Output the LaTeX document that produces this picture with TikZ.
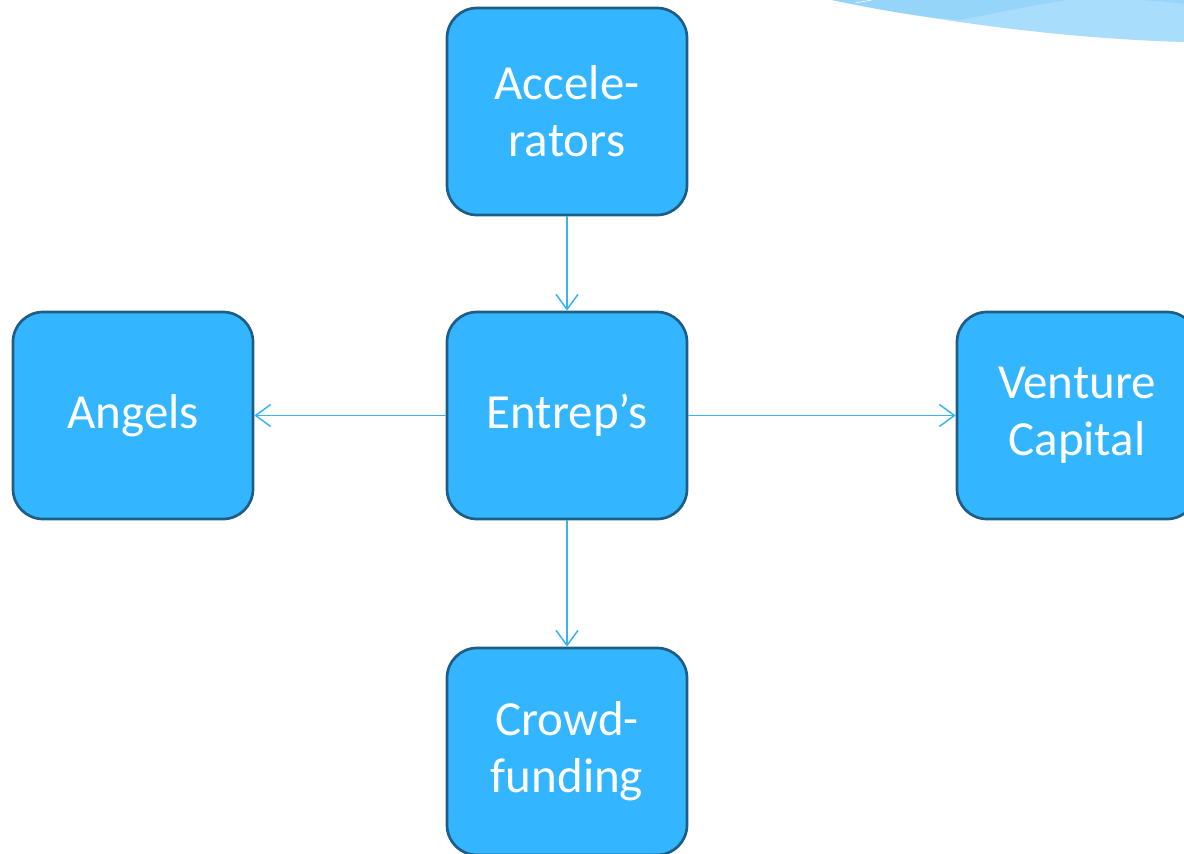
\documentclass[tikz,border=0pt]{standalone}
\usepackage{fontspec}
\setmainfont{Carlito}
\usetikzlibrary{arrows.meta}
\definecolor{boxfill}{HTML}{33B6FF}
\definecolor{boxedge}{HTML}{1E5E86}
\definecolor{linkblue}{HTML}{38B4F5}
\definecolor{swooshA}{HTML}{A8DDFB}
\definecolor{swooshB}{HTML}{96D5FA}
\tikzset{
  fundbox/.style={rectangle, rounded corners=30pt, minimum width=240pt,
    minimum height=207pt, fill=boxfill, draw=boxedge, line width=2.7pt,
    text=white, align=center, inner sep=0pt,
    font=\fontsize{49pt}{57pt}\selectfont},
  link/.style={draw=linkblue, line width=1.5pt,
    -{Straight Barb[length=15pt,width=22pt,line width=1.5pt]}}
}
\begin{document}
\begin{tikzpicture}[x=1pt,y=-1pt]
\useasboundingbox (0,0) rectangle (1184,854);
\clip (0,0) rectangle (1184,854);
\fill[white] (0,0) rectangle (1184,854);
% corner swoosh
\fill[swooshA] (832,0) .. controls (900,14) and (1040,38) .. (1184,42) -- (1184,0) -- cycle;
\fill[swooshB] (832,0) .. controls (880,10) and (920,17) .. (960,20)
  .. controls (1000,12) and (1040,4) .. (1067,0) -- cycle;
\fill[swooshB] (1140,0) -- (1184,0) -- (1184,4) .. controls (1170,2) .. (1140,0) -- cycle;
\draw[white, line width=0.6pt] (855,3) -- (872,0);
% boxes
\node[fundbox] (acc) at (567,111.5) {Accele-\\rators};
\node[fundbox] (ent) at (567,415.5) {Entrep’s};
\node[fundbox] (ang) at (133,415.5) {Angels};
\node[fundbox] (vc)  at (1077,415.5) {Venture\\Capital};
\node[fundbox] (crowd) at (567,751.5) {Crowd-\\funding};
% links
\draw[link] (acc.south) -- (ent.north);
\draw[link] (ent.west) -- (ang.east);
\draw[link] (ent.east) -- (vc.west);
\draw[link] (ent.south) -- (crowd.north);
\end{tikzpicture}
\end{document}
